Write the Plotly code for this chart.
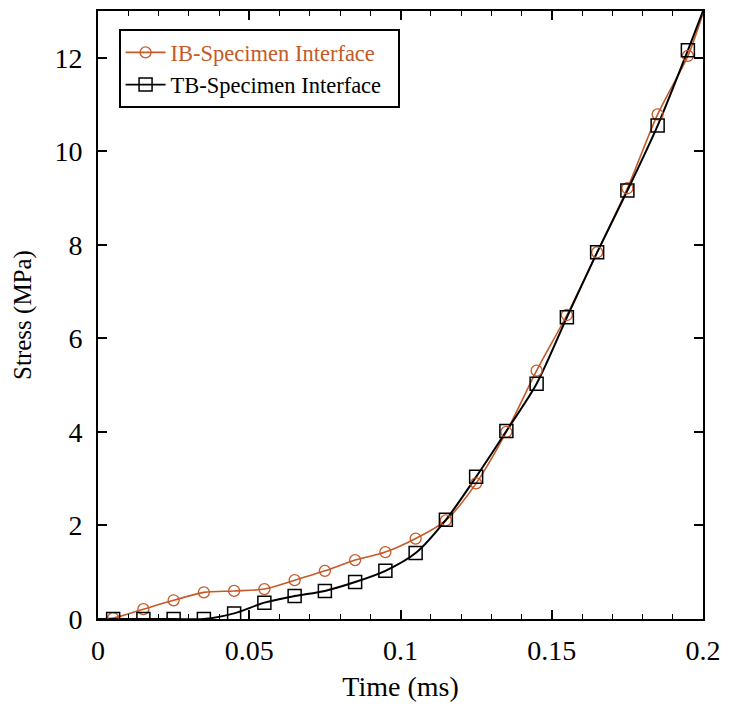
import plotly.graph_objects as go

# Marker sample times (ms)
t_markers = [0.005, 0.015, 0.025, 0.035, 0.045, 0.055, 0.065, 0.075, 0.085, 0.095,
             0.105, 0.115, 0.125, 0.135, 0.145, 0.155, 0.165, 0.175, 0.185, 0.195]
# Stress (MPa) at marker positions
ib_stress = [0.02, 0.21, 0.40, 0.57, 0.60, 0.64, 0.83, 1.03, 1.26, 1.43,
             1.72, 2.11, 2.90, 4.00, 5.31, 6.50, 7.84, 9.21, 10.79, 12.04]
tb_stress = [0.00, 0.00, 0.00, 0.00, 0.12, 0.35, 0.49, 0.60, 0.79, 1.03,
             1.41, 2.12, 3.04, 4.02, 5.03, 6.45, 7.84, 9.16, 10.55, 12.16]
# Curve end points
t_start, t_end = 0.0, 0.2
ib_start, ib_end = 0.0, 12.95
tb_start, tb_end = 0.0, 13.0

ORANGE = "#C55A28"
BLACK = "#000000"
FONT = "Liberation Serif"

line_t = [t_start] + t_markers + [t_end]
ib_line = [ib_start] + ib_stress + [ib_end]
tb_line = [tb_start] + tb_stress + [tb_end]

fig = go.Figure()

fig.add_trace(go.Scatter(x=line_t, y=ib_line, mode="lines",
                         line=dict(color=ORANGE, width=1.6, shape="spline", smoothing=0.8),
                         showlegend=False, hoverinfo="skip"))
fig.add_trace(go.Scatter(x=line_t, y=tb_line, mode="lines",
                         line=dict(color=BLACK, width=2, shape="spline", smoothing=0.8),
                         showlegend=False, hoverinfo="skip"))
fig.add_trace(go.Scatter(x=t_markers, y=ib_stress, mode="markers",
                         marker=dict(symbol="circle-open", size=11, color=ORANGE,
                                     line=dict(width=1.3, color=ORANGE)),
                         showlegend=False))
fig.add_trace(go.Scatter(x=t_markers, y=tb_stress, mode="markers",
                         marker=dict(symbol="square-open", size=13, color=BLACK,
                                     line=dict(width=1.5, color=BLACK)),
                         showlegend=False))

# Legend entries
fig.add_trace(go.Scatter(x=[None], y=[None], mode="lines+markers",
                         name="<span style='color:%s'>IB-Specimen Interface</span>&nbsp;&nbsp;" % ORANGE,
                         line=dict(color=ORANGE, width=1.6),
                         marker=dict(symbol="circle-open", size=11, color=ORANGE,
                                     line=dict(width=1.3, color=ORANGE))))
fig.add_trace(go.Scatter(x=[None], y=[None], mode="lines+markers",
                         name="TB-Specimen Interface&nbsp;&nbsp;",
                         line=dict(color=BLACK, width=1.6),
                         marker=dict(symbol="square-open", size=13, color=BLACK,
                                     line=dict(width=1.5, color=BLACK))))

fig.update_layout(
    width=730, height=706,
    margin=dict(l=98, r=21, t=9, b=87),
    paper_bgcolor="white", plot_bgcolor="white",
    font=dict(family=FONT, color="black"),
    showlegend=True,
    legend=dict(x=0.034, y=0.97, xanchor="left", yanchor="top",
                bgcolor="white", bordercolor="black", borderwidth=2,
                font=dict(family=FONT, size=22.5, color="black"),
                itemwidth=40, tracegroupgap=0),
    xaxis=dict(range=[0, 0.2], tickvals=[0, 0.05, 0.1, 0.15, 0.2],
               ticktext=["0", "0.05", "0.1", "0.15", "0.2"],
               ticks="inside", ticklen=9, tickwidth=1.5, tickcolor="black",
               minor=dict(dtick=0.01, ticks="inside", ticklen=5, tickwidth=1.2, tickcolor="black"),
               showline=True, linecolor="black", linewidth=2, mirror="allticks",
               showgrid=False, zeroline=False,
               tickfont=dict(family=FONT, size=28),
               ticklabelstandoff=5,
               title=dict(text="Time (ms)", font=dict(family=FONT, size=28), standoff=12)),
    yaxis=dict(range=[0, 13], tickvals=[0, 2, 4, 6, 8, 10, 12],
               ticks="inside", ticklen=9, tickwidth=1.5, tickcolor="black",
               showline=True, linecolor="black", linewidth=2, mirror="allticks",
               showgrid=False, zeroline=False,
               tickfont=dict(family=FONT, size=28),
               ticklabelstandoff=8,
               title=dict(text="Stress (MPa)", font=dict(family=FONT, size=25), standoff=16)),
)

fig.write_html("out.html")
